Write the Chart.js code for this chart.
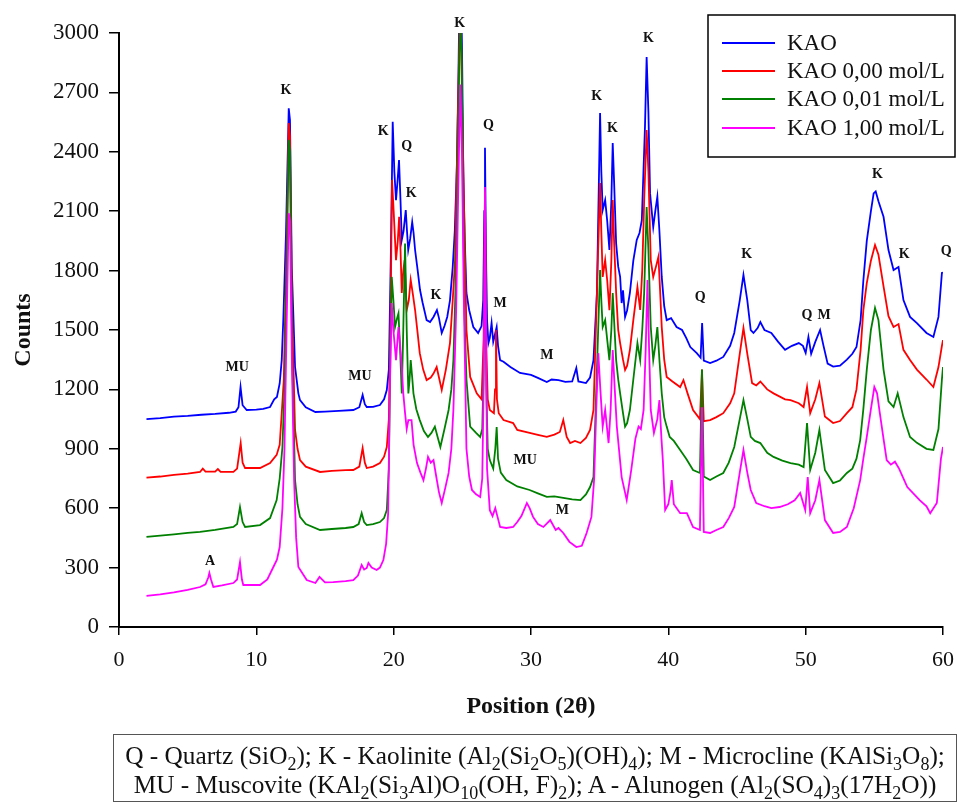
<!DOCTYPE html>
<html>
<head>
<meta charset="utf-8">
<script src="https://cdn.jsdelivr.net/npm/chart.js@4.4.1/dist/chart.umd.min.js"></script>
<style>
  html, body { margin: 0; padding: 0; background: #fff; }
  #wrap { position: relative; width: 963px; height: 805px; }
  #note {
    position: absolute; left: 113px; top: 734px; width: 844px; height: 68px;
    border: 1px solid #555; box-sizing: border-box;
    font-family: 'Liberation Serif', 'Times New Roman', serif; font-size: 25.3px;
    line-height: 29px; text-align: center; color: #111; padding-top: 6px; white-space: nowrap;
  }
  #note sub { font-size: 18px; vertical-align: -6px; line-height: 0; }
</style>
</head>
<body>
<div id="wrap">
  <canvas id="c" width="963" height="805"></canvas>
  <div id="note">Q - Quartz (SiO<sub>2</sub>); K - Kaolinite (Al<sub>2</sub>(Si<sub>2</sub>O<sub>5</sub>)(OH)<sub>4</sub>); M - Microcline (KAlSi<sub>3</sub>O<sub>8</sub>);<br>MU - Muscovite (KAl<sub>2</sub>(Si<sub>3</sub>Al)O<sub>10</sub>(OH, F)<sub>2</sub>); A - Alunogen (Al<sub>2</sub>(SO<sub>4</sub>)<sub>3</sub>(17H<sub>2</sub>O))</div>
</div>
<script>
const seriesNames = ['KAO', 'KAO 0,00 mol/L', 'KAO 0,01 mol/L', 'KAO 1,00 mol/L'];
const seriesColors = ['#0000ff', '#ff0000', '#008000', '#ff00ff'];

const KAO = [[2,1050],[3,1055],[4,1062],[5,1066],[6,1072],[7,1076],[8,1082],[8.5,1088],[8.7,1110],[8.85,1212],[9.0,1120],[9.3,1096],[10,1098],[10.5,1102],[11,1111],[11.3,1150],[11.5,1162],[11.7,1230],[11.85,1348],[11.97,1566],[12.16,1989],[12.36,2620],[12.45,2560],[12.58,1818],[12.82,1313],[13.06,1180],[13.18,1146],[13.6,1110],[14.3,1086],[15,1088],[16,1092],[17.06,1096],[17.5,1110],[17.74,1172],[17.9,1125],[18.04,1111],[18.5,1112],[19.0,1121],[19.3,1150],[19.5,1197],[19.65,1300],[19.8,1900],[19.93,2552],[20.05,2300],[20.17,2156],[20.28,2250],[20.39,2358],[20.5,2150],[20.59,1955],[20.72,2000],[20.88,2106],[20.97,2000],[21.06,1904],[21.2,1960],[21.35,2045],[21.45,1990],[21.56,1904],[21.75,1800],[21.92,1702],[22.1,1640],[22.4,1550],[22.65,1540],[22.9,1566],[23.15,1601],[23.3,1560],[23.5,1485],[23.7,1520],[23.9,1566],[24.1,1650],[24.3,1818],[24.45,2000],[24.6,2323],[24.72,2800],[24.85,3500],[24.98,2900],[25.07,2300],[25.18,1950],[25.3,1687],[25.5,1600],[25.8,1515],[26.15,1485],[26.4,1520],[26.52,1650],[26.6,2100],[26.65,2420],[26.72,1900],[26.8,1550],[26.9,1434],[27.0,1460],[27.13,1535],[27.25,1440],[27.35,1470],[27.5,1515],[27.6,1420],[27.75,1348],[28.0,1340],[28.5,1313],[29.2,1283],[30.0,1273],[30.5,1258],[31.15,1237],[31.5,1250],[32.0,1247],[32.5,1238],[33.0,1240],[33.3,1308],[33.45,1240],[34.0,1232],[34.3,1260],[34.55,1348],[34.8,1687],[34.93,2200],[35.03,2596],[35.12,2300],[35.22,2106],[35.4,2156],[35.55,2050],[35.71,1904],[35.85,2150],[35.95,2444],[36.05,2250],[36.2,1937],[36.35,1820],[36.49,1768],[36.6,1636],[36.7,1700],[36.85,1566],[37.0,1600],[37.2,1687],[37.45,1850],[37.7,1955],[37.9,1990],[38.07,2055],[38.3,2527],[38.42,2879],[38.55,2600],[38.67,2190],[38.9,2020],[39.05,2100],[39.2,2173],[39.35,2000],[39.52,1768],[39.7,1620],[39.88,1550],[40.2,1560],[40.6,1515],[41.0,1500],[41.3,1460],[41.6,1414],[42.07,1383],[42.35,1360],[42.46,1535],[42.58,1345],[43.04,1333],[43.5,1345],[44.0,1364],[44.5,1420],[44.8,1485],[45.2,1650],[45.47,1778],[45.75,1650],[46.0,1500],[46.2,1485],[46.5,1510],[46.7,1540],[47.0,1500],[47.5,1485],[48.0,1440],[48.5,1400],[49.0,1420],[49.5,1434],[49.8,1420],[50.0,1384],[50.2,1465],[50.4,1380],[50.7,1440],[51.05,1500],[51.3,1420],[51.6,1330],[52.0,1315],[52.5,1320],[53.0,1350],[53.4,1380],[53.7,1414],[54.0,1550],[54.2,1750],[54.45,1950],[54.75,2100],[54.95,2190],[55.1,2200],[55.3,2150],[55.67,2072],[56.03,1904],[56.4,1803],[56.76,1818],[57.12,1651],[57.6,1566],[58.1,1535],[58.8,1485],[59.3,1465],[59.67,1566],[59.92,1788],[60.0,1790]];

const KAO_000 = [[2,754],[3,760],[4,768],[5,775],[5.9,783],[6.1,800],[6.3,785],[7,785],[7.2,798],[7.4,784],[8.33,783],[8.6,800],[8.86,929],[9.0,830],[9.18,803],[10.27,803],[11.0,828],[11.48,869],[11.7,920],[11.85,1080],[12.0,1250],[12.2,1900],[12.36,2545],[12.45,2480],[12.6,1600],[12.82,995],[13.0,900],[13.18,843],[13.6,810],[14.64,783],[15.5,788],[16.5,792],[17.06,793],[17.5,810],[17.74,904],[17.9,830],[18.04,803],[18.5,810],[19.0,828],[19.3,860],[19.5,909],[19.65,1050],[19.78,1600],[19.88,2258],[20.0,2100],[20.17,1853],[20.3,1950],[20.4,2072],[20.5,1900],[20.59,1687],[20.7,1800],[20.8,1853],[20.95,1601],[21.1,1650],[21.24,1753],[21.4,1680],[21.56,1601],[21.75,1480],[21.9,1383],[22.15,1300],[22.4,1247],[22.7,1260],[22.9,1280],[23.13,1313],[23.3,1260],[23.5,1197],[23.8,1300],[24.1,1434],[24.3,1650],[24.47,1853],[24.65,2500],[24.85,3200],[25.0,2600],[25.1,2200],[25.3,1500],[25.57,1263],[26.05,1180],[26.4,1150],[26.55,1450],[26.65,2200],[26.75,1400],[26.85,1150],[27.0,1096],[27.3,1080],[27.38,1200],[27.45,1500],[27.52,1150],[27.65,1080],[28.0,1045],[28.7,1030],[29.0,995],[29.9,980],[30.5,970],[31.15,960],[31.7,972],[32.1,985],[32.35,1045],[32.6,960],[32.85,929],[33.2,940],[33.6,929],[34.0,955],[34.3,995],[34.55,1096],[34.8,1687],[35.03,2242],[35.12,2000],[35.22,1768],[35.4,1853],[35.55,1750],[35.71,1600],[35.85,1850],[35.95,2156],[36.05,1950],[36.2,1687],[36.35,1500],[36.49,1434],[36.7,1350],[36.85,1298],[37.0,1320],[37.2,1399],[37.45,1550],[37.75,1717],[37.95,1601],[38.1,1800],[38.24,2156],[38.42,2510],[38.55,2300],[38.72,1853],[38.9,1768],[39.1,1820],[39.28,1870],[39.4,1700],[39.52,1515],[39.7,1350],[39.88,1263],[40.3,1240],[40.86,1212],[41.1,1247],[41.4,1180],[41.8,1096],[42.3,1050],[42.45,1300],[42.58,1040],[43.04,1045],[43.5,1060],[44.0,1080],[44.5,1130],[44.8,1180],[45.2,1380],[45.47,1510],[45.75,1380],[46.1,1232],[46.4,1220],[46.7,1240],[47.2,1200],[47.66,1180],[48.5,1150],[48.9,1146],[49.5,1130],[49.85,1111],[50.1,1212],[50.33,1080],[50.7,1150],[51.0,1232],[51.4,1063],[52.0,1030],[52.5,1040],[53.0,1080],[53.4,1110],[53.7,1200],[54.0,1400],[54.2,1600],[54.45,1737],[54.75,1850],[55.05,1929],[55.3,1880],[55.67,1720],[56.03,1570],[56.4,1515],[56.76,1530],[57.12,1400],[57.6,1348],[58.1,1300],[58.8,1250],[59.3,1212],[59.67,1313],[59.92,1420],[60,1449]];

const KAO_001 = [[2,455],[3,462],[4,468],[5,475],[5.9,480],[7,490],[8.33,505],[8.6,520],[8.81,606],[9.0,530],[9.18,505],[10.27,515],[11.0,550],[11.48,641],[11.7,750],[11.9,909],[12.05,1200],[12.2,1800],[12.36,2460],[12.45,2400],[12.6,1400],[12.82,742],[13.0,620],[13.18,556],[13.6,520],[14.64,490],[15.5,495],[16.5,500],[17.06,505],[17.45,520],[17.67,575],[17.85,530],[18.04,515],[18.5,520],[19.0,530],[19.3,550],[19.5,591],[19.65,800],[19.76,1400],[19.86,1768],[19.98,1650],[20.1,1515],[20.25,1560],[20.35,1584],[20.47,1400],[20.59,1180],[20.7,1500],[20.83,1937],[20.95,1500],[21.07,1180],[21.16,1250],[21.24,1348],[21.35,1260],[21.44,1180],[21.65,1100],[21.9,1045],[22.2,990],[22.5,960],[22.75,980],[23.0,1012],[23.2,960],[23.4,909],[23.7,1000],[24.0,1096],[24.2,1200],[24.35,1348],[24.5,1700],[24.64,2200],[24.76,2800],[24.85,3050],[24.95,2900],[25.05,2200],[25.15,1600],[25.3,1250],[25.57,1012],[26.0,980],[26.3,960],[26.45,1000],[26.55,1300],[26.65,2000],[26.75,1200],[26.85,900],[27.0,843],[27.25,800],[27.4,900],[27.5,1010],[27.6,850],[27.8,780],[28.2,742],[29.0,710],[29.9,692],[30.5,675],[31.15,657],[31.7,660],[32.35,652],[33.0,645],[33.6,641],[34.0,670],[34.3,707],[34.55,757],[34.8,1300],[35.03,1803],[35.12,1650],[35.22,1515],[35.4,1550],[35.55,1450],[35.71,1348],[35.85,1500],[35.95,1687],[36.05,1550],[36.2,1348],[36.35,1250],[36.49,1180],[36.7,1080],[36.85,1012],[37.0,1030],[37.2,1096],[37.45,1250],[37.75,1434],[37.95,1348],[38.1,1500],[38.24,1687],[38.42,2121],[38.55,1900],[38.72,1515],[38.9,1348],[39.05,1420],[39.2,1515],[39.35,1350],[39.52,1180],[39.7,1060],[39.88,1012],[40.1,960],[40.4,940],[40.86,894],[41.3,850],[41.8,793],[42.3,778],[42.45,1300],[42.58,760],[43.04,742],[43.5,760],[44.0,778],[44.4,830],[44.8,909],[45.2,1050],[45.47,1146],[45.75,1050],[46.0,960],[46.3,940],[46.7,929],[47.2,880],[47.66,859],[48.3,840],[48.9,828],[49.5,820],[49.85,808],[50.1,1030],[50.33,793],[50.7,880],[51.0,995],[51.4,793],[52.0,727],[52.5,740],[53.0,778],[53.4,800],[53.7,850],[53.97,944],[54.2,1100],[54.45,1300],[54.75,1500],[55.05,1611],[55.3,1550],[55.67,1300],[56.03,1140],[56.4,1111],[56.7,1180],[57.12,1060],[57.6,960],[58.1,930],[58.8,900],[59.3,894],[59.67,1000],[59.92,1250],[60,1313]];

const KAO_100 = [[2,157],[3,165],[4,175],[5,188],[5.9,202],[6.3,215],[6.5,250],[6.58,273],[6.7,240],[6.87,202],[7.5,210],[8.33,222],[8.6,240],[8.81,328],[8.95,240],[9.05,212],[10.27,212],[10.8,240],[11.24,303],[11.5,340],[11.7,404],[11.9,600],[12.05,900],[12.2,1500],[12.36,2090],[12.45,2050],[12.6,1300],[12.75,742],[12.9,450],[13.06,303],[13.67,237],[14.3,222],[14.6,253],[15.0,225],[15.6,227],[16.5,232],[17.06,237],[17.4,260],[17.67,313],[17.85,290],[18.04,298],[18.16,323],[18.4,300],[18.76,288],[19.0,300],[19.25,338],[19.45,420],[19.6,575],[19.72,1200],[19.86,1636],[19.98,1500],[20.17,1348],[20.35,1515],[20.47,1420],[20.59,1313],[20.7,1180],[20.83,1080],[20.95,1000],[21.07,1045],[21.3,1045],[21.45,920],[21.7,828],[21.95,780],[22.17,742],[22.35,800],[22.5,859],[22.7,830],[22.9,843],[23.1,760],[23.3,680],[23.5,626],[23.75,700],[24.0,778],[24.2,900],[24.35,1100],[24.55,1600],[24.7,2200],[24.85,2740],[24.97,2400],[25.1,1700],[25.3,900],[25.5,760],[25.7,692],[26.0,670],[26.3,657],[26.45,750],[26.55,1200],[26.65,2222],[26.72,1500],[26.8,800],[27.0,590],[27.2,560],[27.4,600],[27.55,560],[27.75,505],[28.2,500],[28.7,505],[29.0,530],[29.3,560],[29.7,626],[29.9,600],[30.15,556],[30.5,520],[30.9,505],[31.4,540],[31.8,490],[32.0,500],[32.35,475],[32.8,430],[33.3,404],[33.7,410],[34.05,475],[34.4,556],[34.6,750],[34.75,1100],[34.9,1383],[35.05,1200],[35.22,1012],[35.4,1096],[35.65,929],[35.8,1100],[35.95,1399],[36.1,1200],[36.25,1012],[36.6,757],[36.97,641],[37.3,793],[37.6,950],[37.83,1012],[38.0,1000],[38.2,1096],[38.35,1400],[38.48,1753],[38.6,1400],[38.72,1096],[38.95,980],[39.2,1050],[39.35,1146],[39.5,950],[39.6,843],[39.77,591],[40.0,620],[40.15,680],[40.25,742],[40.4,620],[40.86,575],[41.35,575],[41.8,505],[42.3,490],[42.45,1110],[42.58,480],[43.04,475],[43.5,490],[44.0,505],[44.4,550],[44.8,606],[45.2,780],[45.47,894],[45.75,780],[46.0,692],[46.4,626],[47.0,610],[47.5,600],[48.1,606],[48.7,620],[49.2,640],[49.6,677],[49.97,591],[50.15,757],[50.33,575],[50.7,640],[51.0,742],[51.4,540],[52.0,475],[52.5,480],[53.0,505],[53.5,600],[53.97,742],[54.2,850],[54.45,960],[54.75,1100],[55.0,1212],[55.2,1180],[55.4,1080],[55.67,950],[55.9,843],[56.2,820],[56.5,835],[56.8,800],[57.4,707],[58.3,641],[58.8,610],[59.07,575],[59.55,626],[59.85,850],[60,909]];

const peakLabels = ['MU','K','MU','K','Q','K','K','K','Q','M','M','K','K','K','Q','K','Q','M','K','K','Q','MU','M','A'];
const peakX = [8.6,12.16,17.55,19.23,20.95,21.27,23.08,24.8,26.9,27.75,31.15,34.79,35.93,38.55,42.32,45.71,50.1,51.35,55.23,57.17,60.23,29.57,32.29,6.63];
const peakY = [1313,2712,1268,2505,2426,2192,1677,3049,2535,1636,1374,2678,2518,2973,1663,1882,1572,1572,2288,1882,1899,843,587,330];

const xTicks = [0, 10, 20, 30, 40, 50, 60];
const yTicks = [0, 300, 600, 900, 1200, 1500, 1800, 2100, 2400, 2700, 3000];

const allSeries = [KAO, KAO_000, KAO_001, KAO_100];
const SERIF = "'Liberation Serif', 'Times New Roman', serif";

const overlayPlugin = {
  id: 'overlay',
  afterDraw(chart) {
    const ctx = chart.ctx;
    const xs = chart.scales.x, ys = chart.scales.y;
    ctx.save();
    ctx.fillStyle = '#111';
    ctx.font = 'bold 14px ' + SERIF;
    ctx.textAlign = 'center';
    ctx.textBaseline = 'middle';
    peakLabels.forEach((t, i) => {
      ctx.fillText(t, xs.getPixelForValue(peakX[i]), ys.getPixelForValue(peakY[i]));
    });
    const bx = 708, by = 15, bw = 247, bh = 142;
    ctx.strokeStyle = '#000';
    ctx.lineWidth = 1.5;
    ctx.strokeRect(bx, by, bw, bh);
    ctx.font = '23px ' + SERIF;
    ctx.textAlign = 'left';
    const rows = [43, 71, 99, 128];
    seriesNames.forEach((name, i) => {
      ctx.strokeStyle = seriesColors[i];
      ctx.lineWidth = 2;
      ctx.beginPath();
      ctx.moveTo(722, rows[i]);
      ctx.lineTo(775, rows[i]);
      ctx.stroke();
      ctx.fillStyle = '#111';
      ctx.fillText(name, 787, rows[i] + 1);
    });
    ctx.restore();
  }
};

Chart.defaults.font.family = SERIF;
Chart.defaults.color = '#111';

new Chart(document.getElementById('c'), {
  type: 'line',
  data: {
    datasets: allSeries.map((s, i) => ({
      label: seriesNames[i],
      data: s.map(p => ({x: p[0], y: p[1]})),
      borderColor: seriesColors[i],
      backgroundColor: seriesColors[i],
      borderWidth: 1.8,
      pointRadius: 0,
      tension: 0,
      fill: false,
      order: 4 - i
    }))
  },
  options: {
    responsive: false,
    animation: false,
    layout: { padding: { left: 0, right: 20, top: 33, bottom: 84 } },
    plugins: { legend: { display: false }, tooltip: { enabled: false } },
    scales: {
      x: {
        type: 'linear', min: 0, max: 60,
        afterBuildTicks: (s) => { s.ticks = xTicks.map(v => ({value: v})); },
        afterFit: (s) => { s.height = 94; s.paddingRight = 0; },
        border: { color: '#000', width: 2 },
        grid: { drawOnChartArea: false, drawTicks: true, tickLength: 8, color: '#000', lineWidth: 1.5 },
        ticks: { font: { size: 22 }, color: '#111', padding: 12, maxRotation: 0, callback: (v) => String(v) },
        title: { display: true, text: 'Position (2θ)', font: { size: 24, weight: 'bold' }, color: '#111', padding: { top: 0, bottom: 0 } }
      },
      y: {
        type: 'linear', min: 0, max: 3000,
        afterBuildTicks: (s) => { s.ticks = yTicks.map(v => ({value: v})); },
        afterFit: (s) => { s.width = 119; },
        border: { color: '#000', width: 2 },
        grid: { drawOnChartArea: false, drawTicks: true, tickLength: 10, color: '#000', lineWidth: 1.5 },
        ticks: { font: { size: 23 }, color: '#111', padding: 10, callback: (v) => String(v) },
        title: { display: true, text: 'Counts', font: { size: 24, weight: 'bold' }, color: '#111', padding: { top: 9, bottom: 0 } }
      }
    }
  },
  plugins: [overlayPlugin]
});
</script>
</body>
</html>
